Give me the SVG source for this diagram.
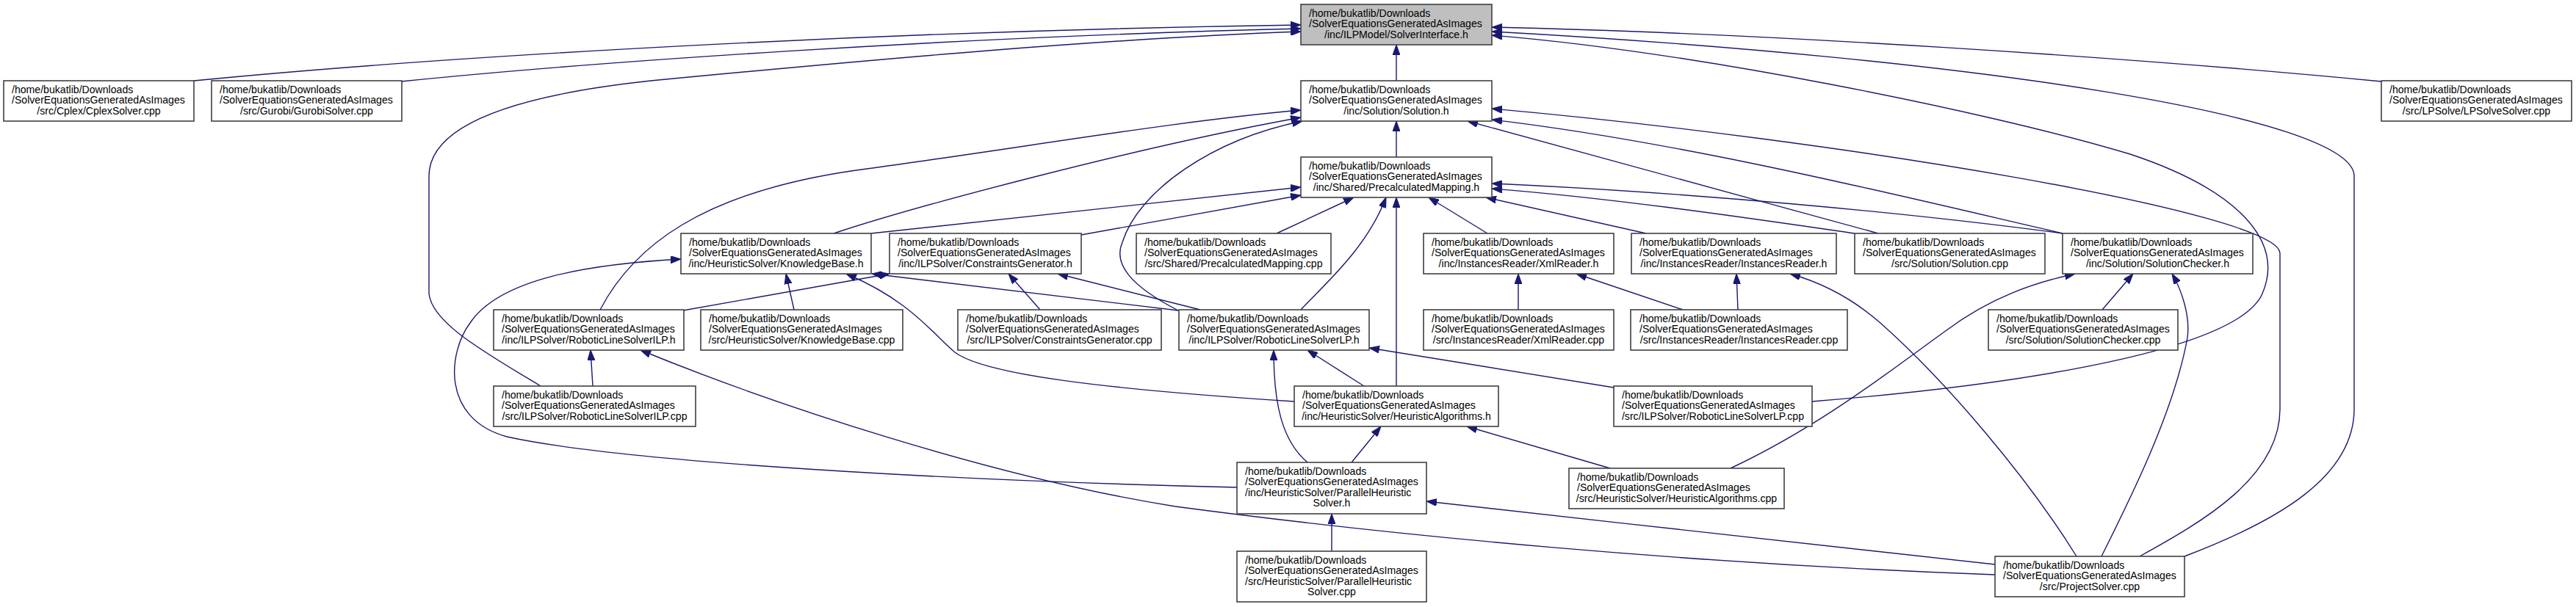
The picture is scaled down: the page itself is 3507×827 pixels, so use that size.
<svg xmlns="http://www.w3.org/2000/svg" width="3507" height="827" viewBox="0 0 3507 827">
<style>
.n rect{fill:#ffffff;stroke:#404040;stroke-width:1.6}
.root rect{fill:#bfbfbf}
text{font-family:"Liberation Sans",Arial,Helvetica,sans-serif;font-size:14.1px;fill:#000000}
.c{text-anchor:middle}
.e path{fill:none;stroke:#191970;stroke-width:1.4;marker-end:url(#ah)}
</style>
<defs>
<marker id="ah" markerUnits="userSpaceOnUse" markerWidth="14" markerHeight="10" viewBox="0 0 14 10" refX="14" refY="5" orient="auto"><path d="M0,0 L14,5 L0,10 z" fill="#191970" stroke="#191970" stroke-width="1"/></marker>
</defs>
<rect x="0" y="0" width="3507" height="827" fill="#ffffff"/>
<g id="edges" class="e">
<path d="M1901,110 L1901,61"/>
<path d="M1901,214 L1901,165"/>
<path d="M264,110 C600,77 1200,42 1771,34"/>
<path d="M546,111 C800,85 1300,50 1771,39"/>
<path d="M736,526 C660,480 588,440 584,400 L584,240 C584,170 700,130 886,110 C1200,80 1500,53 1771,43"/>
<path d="M3242,111 C2900,78 2400,45 2031,37"/>
<path d="M2974,758 C3100,710 3205,650 3205,557 L3205,240 C3205,160 2700,80 2031,43"/>
<path d="M2467,547 C2800,520 3050,470 3080,400 C3110,330 3050,260 2900,210 C2700,150 2300,70 2031,48"/>
<path d="M2913,758 C3000,710 3104,650 3104,557 L3104,345 C3104,290 2500,190 2031,148"/>
<path d="M2808,318 C2600,270 2300,195 2031,163"/>
<path d="M2557,318 L1998,165"/>
<path d="M817,422 C860,340 950,260 1180,230 C1400,200 1600,165 1771,150"/>
<path d="M1135,318 C1250,280 1550,200 1771,160"/>
<path d="M1604,423 C1540,390 1515,360 1528,330 C1550,260 1650,190 1773,165"/>
<path d="M1186,318 L1771,255"/>
<path d="M1472,320 L1771,266"/>
<path d="M1738,318 L1843,269"/>
<path d="M1771,422 C1800,390 1860,340 1887,269"/>
<path d="M1901,526 L1901,269"/>
<path d="M2025,318 L1945,269"/>
<path d="M2241,318 L2023,269"/>
<path d="M2808,318 C2600,290 2300,262 2031,250"/>
<path d="M2525,318 C2400,300 2200,270 2031,257"/>
<path d="M1081,422 L1070,373"/>
<path d="M930,423 L1211,373"/>
<path d="M1604,423 L1187,373"/>
<path d="M1634,422 L1440,373"/>
<path d="M1416,422 L1373,373"/>
<path d="M1762,547 C1500,530 1340,510 1300,480 C1270,455 1240,410 1152,373"/>
<path d="M1684,664 C1300,655 850,630 690,595 C600,570 610,480 640,440 C680,380 800,360 927,353"/>
<path d="M807,526 L804,477"/>
<path d="M2716,783 C2300,768 1900,730 1600,690 C1350,650 1050,550 872,477"/>
<path d="M2197,528 L1864,474"/>
<path d="M1857,526 L1780,477"/>
<path d="M1780,630 C1745,600 1734,550 1734,477"/>
<path d="M2067,422 L2067,373"/>
<path d="M2291,422 L2146,373"/>
<path d="M2366,422 L2364,373"/>
<path d="M2827,758 C2760,650 2650,520 2560,440 C2520,405 2480,385 2437,373"/>
<path d="M2356,638 C2480,580 2580,500 2650,450 C2710,405 2770,385 2825,373"/>
<path d="M2862,422 L2904,373"/>
<path d="M2861,758 C2900,680 2960,560 2978,460 C2982,430 2970,395 2957,373"/>
<path d="M2192,638 L1997,581"/>
<path d="M1840,630 L1880,581"/>
<path d="M1813,751 L1813,700"/>
<path d="M2716,769 C2500,745 2200,712 1942,683"/>
</g>
<g id="n_SolverInterface_h" class="n root"><rect x="1771" y="6" width="260" height="55"/><text><tspan x="1782" y="22.5">/home/bukatlib/Downloads</tspan><tspan x="1782" y="37">/SolverEquationsGeneratedAsImages</tspan><tspan class="c" x="1901" y="51.5">/inc/ILPModel/SolverInterface.h</tspan></text></g>
<g id="n_CplexSolver_cpp" class="n"><rect x="5" y="110" width="259" height="55"/><text><tspan x="16" y="126.5">/home/bukatlib/Downloads</tspan><tspan x="16" y="141">/SolverEquationsGeneratedAsImages</tspan><tspan class="c" x="134.5" y="155.5">/src/Cplex/CplexSolver.cpp</tspan></text></g>
<g id="n_GurobiSolver_cpp" class="n"><rect x="288" y="110" width="259" height="55"/><text><tspan x="299" y="126.5">/home/bukatlib/Downloads</tspan><tspan x="299" y="141">/SolverEquationsGeneratedAsImages</tspan><tspan class="c" x="417.5" y="155.5">/src/Gurobi/GurobiSolver.cpp</tspan></text></g>
<g id="n_Solution_h" class="n"><rect x="1771" y="110" width="260" height="55"/><text><tspan x="1782" y="126.5">/home/bukatlib/Downloads</tspan><tspan x="1782" y="141">/SolverEquationsGeneratedAsImages</tspan><tspan class="c" x="1901" y="155.5">/inc/Solution/Solution.h</tspan></text></g>
<g id="n_LPSolveSolver_cpp" class="n"><rect x="3242" y="110" width="259" height="55"/><text><tspan x="3253" y="126.5">/home/bukatlib/Downloads</tspan><tspan x="3253" y="141">/SolverEquationsGeneratedAsImages</tspan><tspan class="c" x="3371.5" y="155.5">/src/LPSolve/LPSolveSolver.cpp</tspan></text></g>
<g id="n_PrecalculatedMapping_h" class="n"><rect x="1771" y="214" width="260" height="55"/><text><tspan x="1782" y="230.5">/home/bukatlib/Downloads</tspan><tspan x="1782" y="245">/SolverEquationsGeneratedAsImages</tspan><tspan class="c" x="1901" y="259.5">/inc/Shared/PrecalculatedMapping.h</tspan></text></g>
<g id="n_KnowledgeBase_h" class="n"><rect x="927" y="318" width="259" height="55"/><text><tspan x="938" y="334.5">/home/bukatlib/Downloads</tspan><tspan x="938" y="349">/SolverEquationsGeneratedAsImages</tspan><tspan class="c" x="1056.5" y="363.5">/inc/HeuristicSolver/KnowledgeBase.h</tspan></text></g>
<g id="n_ConstraintsGenerator_h" class="n"><rect x="1211" y="318" width="261" height="55"/><text><tspan x="1222" y="334.5">/home/bukatlib/Downloads</tspan><tspan x="1222" y="349">/SolverEquationsGeneratedAsImages</tspan><tspan class="c" x="1341.5" y="363.5">/inc/ILPSolver/ConstraintsGenerator.h</tspan></text></g>
<g id="n_PrecalculatedMapping_cpp" class="n"><rect x="1547" y="318" width="265" height="55"/><text><tspan x="1558" y="334.5">/home/bukatlib/Downloads</tspan><tspan x="1558" y="349">/SolverEquationsGeneratedAsImages</tspan><tspan class="c" x="1679.5" y="363.5">/src/Shared/PrecalculatedMapping.cpp</tspan></text></g>
<g id="n_XmlReader_h" class="n"><rect x="1938" y="318" width="259" height="55"/><text><tspan x="1949" y="334.5">/home/bukatlib/Downloads</tspan><tspan x="1949" y="349">/SolverEquationsGeneratedAsImages</tspan><tspan class="c" x="2067.5" y="363.5">/inc/InstancesReader/XmlReader.h</tspan></text></g>
<g id="n_InstancesReader_h" class="n"><rect x="2221" y="318" width="279" height="55"/><text><tspan x="2232" y="334.5">/home/bukatlib/Downloads</tspan><tspan x="2232" y="349">/SolverEquationsGeneratedAsImages</tspan><tspan class="c" x="2360.5" y="363.5">/inc/InstancesReader/InstancesReader.h</tspan></text></g>
<g id="n_Solution_cpp" class="n"><rect x="2525" y="318" width="259" height="55"/><text><tspan x="2536" y="334.5">/home/bukatlib/Downloads</tspan><tspan x="2536" y="349">/SolverEquationsGeneratedAsImages</tspan><tspan class="c" x="2654.5" y="363.5">/src/Solution/Solution.cpp</tspan></text></g>
<g id="n_SolutionChecker_h" class="n"><rect x="2808" y="318" width="259" height="55"/><text><tspan x="2819" y="334.5">/home/bukatlib/Downloads</tspan><tspan x="2819" y="349">/SolverEquationsGeneratedAsImages</tspan><tspan class="c" x="2937.5" y="363.5">/inc/Solution/SolutionChecker.h</tspan></text></g>
<g id="n_RoboticLineSolverILP_h" class="n"><rect x="672" y="422" width="259" height="55"/><text><tspan x="683" y="438.5">/home/bukatlib/Downloads</tspan><tspan x="683" y="453">/SolverEquationsGeneratedAsImages</tspan><tspan class="c" x="801.5" y="467.5">/inc/ILPSolver/RoboticLineSolverILP.h</tspan></text></g>
<g id="n_KnowledgeBase_cpp" class="n"><rect x="954" y="422" width="275" height="55"/><text><tspan x="965" y="438.5">/home/bukatlib/Downloads</tspan><tspan x="965" y="453">/SolverEquationsGeneratedAsImages</tspan><tspan class="c" x="1091.5" y="467.5">/src/HeuristicSolver/KnowledgeBase.cpp</tspan></text></g>
<g id="n_ConstraintsGenerator_cpp" class="n"><rect x="1304" y="422" width="277" height="55"/><text><tspan x="1315" y="438.5">/home/bukatlib/Downloads</tspan><tspan x="1315" y="453">/SolverEquationsGeneratedAsImages</tspan><tspan class="c" x="1442.5" y="467.5">/src/ILPSolver/ConstraintsGenerator.cpp</tspan></text></g>
<g id="n_RoboticLineSolverLP_h" class="n"><rect x="1605" y="422" width="259" height="55"/><text><tspan x="1616" y="438.5">/home/bukatlib/Downloads</tspan><tspan x="1616" y="453">/SolverEquationsGeneratedAsImages</tspan><tspan class="c" x="1734.5" y="467.5">/inc/ILPSolver/RoboticLineSolverLP.h</tspan></text></g>
<g id="n_XmlReader_cpp" class="n"><rect x="1938" y="422" width="259" height="55"/><text><tspan x="1949" y="438.5">/home/bukatlib/Downloads</tspan><tspan x="1949" y="453">/SolverEquationsGeneratedAsImages</tspan><tspan class="c" x="2067.5" y="467.5">/src/InstancesReader/XmlReader.cpp</tspan></text></g>
<g id="n_InstancesReader_cpp" class="n"><rect x="2220" y="422" width="295" height="55"/><text><tspan x="2232" y="438.5">/home/bukatlib/Downloads</tspan><tspan x="2232" y="453">/SolverEquationsGeneratedAsImages</tspan><tspan class="c" x="2367.5" y="467.5">/src/InstancesReader/InstancesReader.cpp</tspan></text></g>
<g id="n_SolutionChecker_cpp" class="n"><rect x="2707" y="422" width="258" height="55"/><text><tspan x="2718" y="438.5">/home/bukatlib/Downloads</tspan><tspan x="2718" y="453">/SolverEquationsGeneratedAsImages</tspan><tspan class="c" x="2836" y="467.5">/src/Solution/SolutionChecker.cpp</tspan></text></g>
<g id="n_RoboticLineSolverILP_cpp" class="n"><rect x="672" y="526" width="275" height="55"/><text><tspan x="683" y="542.5">/home/bukatlib/Downloads</tspan><tspan x="683" y="557">/SolverEquationsGeneratedAsImages</tspan><tspan class="c" x="809.5" y="571.5">/src/ILPSolver/RoboticLineSolverILP.cpp</tspan></text></g>
<g id="n_HeuristicAlgorithms_h" class="n"><rect x="1762" y="526" width="278" height="55"/><text><tspan x="1773" y="542.5">/home/bukatlib/Downloads</tspan><tspan x="1773" y="557">/SolverEquationsGeneratedAsImages</tspan><tspan class="c" x="1901" y="571.5">/inc/HeuristicSolver/HeuristicAlgorithms.h</tspan></text></g>
<g id="n_RoboticLineSolverLP_cpp" class="n"><rect x="2197" y="526" width="270" height="55"/><text><tspan x="2208" y="542.5">/home/bukatlib/Downloads</tspan><tspan x="2208" y="557">/SolverEquationsGeneratedAsImages</tspan><tspan class="c" x="2332" y="571.5">/src/ILPSolver/RoboticLineSolverLP.cpp</tspan></text></g>
<g id="n_ParallelHeuristicSolver_h" class="n"><rect x="1684" y="630" width="258" height="70"/><text><tspan x="1695" y="646.5">/home/bukatlib/Downloads</tspan><tspan x="1695" y="661">/SolverEquationsGeneratedAsImages</tspan><tspan x="1695" y="675.5">/inc/HeuristicSolver/ParallelHeuristic</tspan><tspan class="c" x="1813" y="690">Solver.h</tspan></text></g>
<g id="n_HeuristicAlgorithms_cpp" class="n"><rect x="2136" y="638" width="293" height="55"/><text><tspan x="2147" y="654.5">/home/bukatlib/Downloads</tspan><tspan x="2147" y="669">/SolverEquationsGeneratedAsImages</tspan><tspan class="c" x="2282.5" y="683.5">/src/HeuristicSolver/HeuristicAlgorithms.cpp</tspan></text></g>
<g id="n_ParallelHeuristicSolver_cpp" class="n"><rect x="1684" y="751" width="258" height="69"/><text><tspan x="1695" y="767.5">/home/bukatlib/Downloads</tspan><tspan x="1695" y="782">/SolverEquationsGeneratedAsImages</tspan><tspan x="1695" y="796.5">/src/HeuristicSolver/ParallelHeuristic</tspan><tspan class="c" x="1813" y="811">Solver.cpp</tspan></text></g>
<g id="n_ProjectSolver_cpp" class="n"><rect x="2716" y="758" width="258" height="55"/><text><tspan x="2727" y="774.5">/home/bukatlib/Downloads</tspan><tspan x="2727" y="789">/SolverEquationsGeneratedAsImages</tspan><tspan class="c" x="2845" y="803.5">/src/ProjectSolver.cpp</tspan></text></g>
</svg>
